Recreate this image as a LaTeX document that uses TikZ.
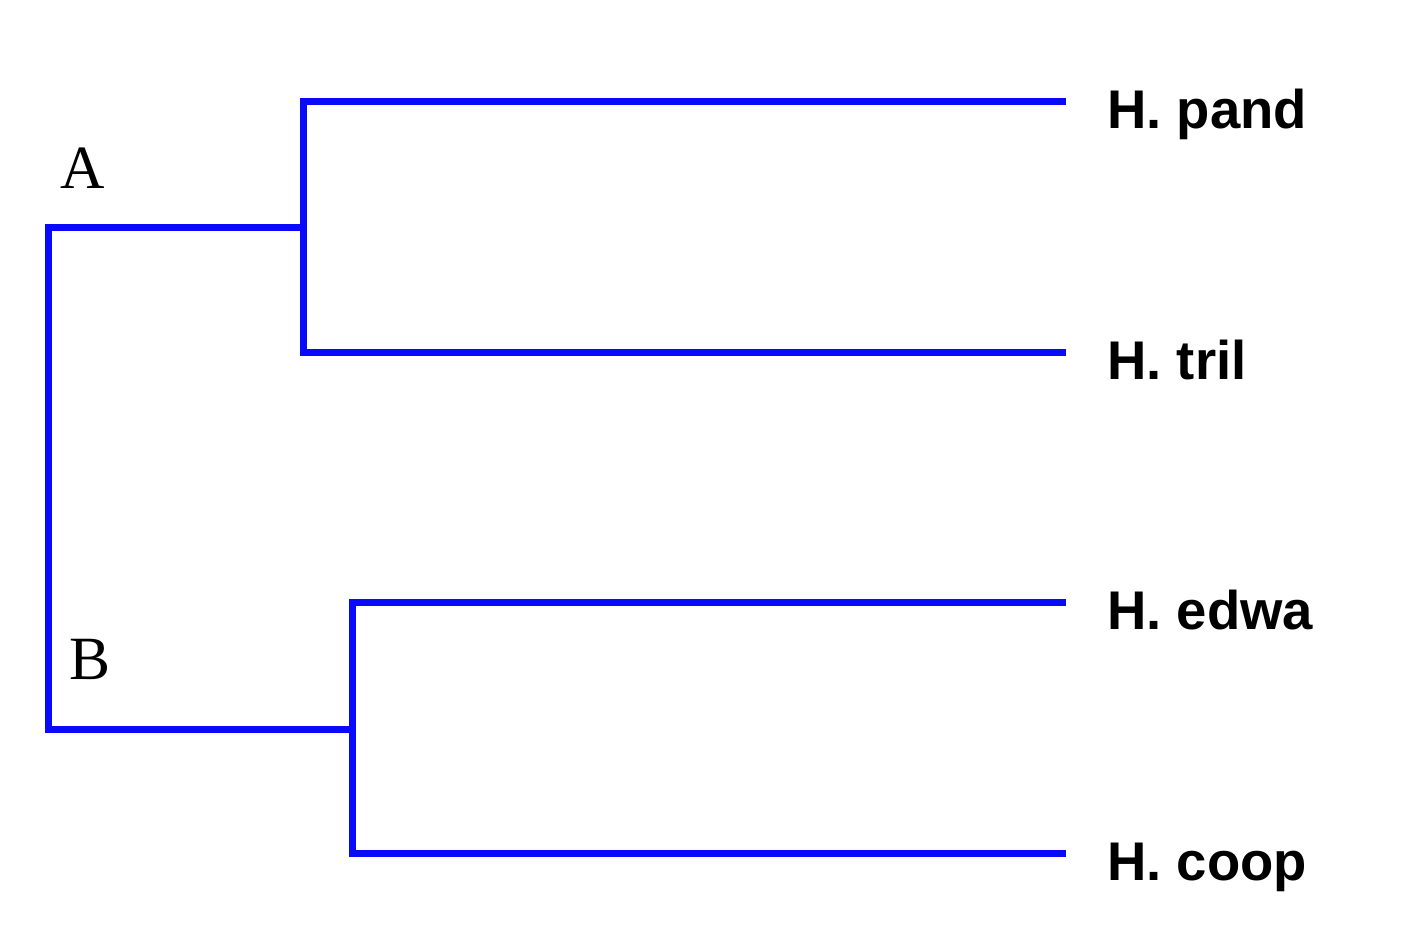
\documentclass[tikz,border=0pt]{standalone}
\usepackage{fontspec}
\setmainfont{Liberation Serif}
\newfontfamily\leaffont{Liberation Sans}
\begin{document}
\begin{tikzpicture}[x=0.02cm,y=-0.02cm,
  branch/.style={draw={rgb,255:red,10;green,10;blue,250},line width=0.14cm,line cap=rect},
  leaf/.style={anchor=base west,font=\leaffont\bfseries\fontsize{31}{33}\selectfont,inner sep=0pt},
  clade/.style={anchor=base west,font=\fontsize{35}{37}\selectfont,inner sep=0pt}]
\useasboundingbox (0,0) rectangle (1402,938);
% tree points
\coordinate (root1) at (48,227);
\coordinate (root2) at (48,729);
\coordinate (a) at (303,227);
\coordinate (a1) at (303,101);
\coordinate (a2) at (303,352);
\coordinate (b) at (352,729);
\coordinate (b1) at (352,602);
\coordinate (b2) at (352,853);
\coordinate (e1) at (1062,101);
\coordinate (e2) at (1062,352);
\coordinate (e3) at (1062,602);
\coordinate (e4) at (1062,853);
% leaf labels
\node[leaf] (l1) at (1107,128) {H. pand};
\node[leaf] (l2) at (1107,379) {H. tril};
\node[leaf] (l3) at (1107,629) {H. edwa};
\node[leaf] (l4) at (1107,880) {H. coop};
% clade labels
\node[clade] (A) at (60,188) {A};
\node[clade] (B) at (69,679) {B};
% branches
\path[branch] (a) -- (root1) -- (root2) -- (b);
\path[branch] (e1) -- (a1) -- (a2) -- (e2);
\path[branch] (e3) -- (b1) -- (b2) -- (e4);
\end{tikzpicture}
\end{document}
